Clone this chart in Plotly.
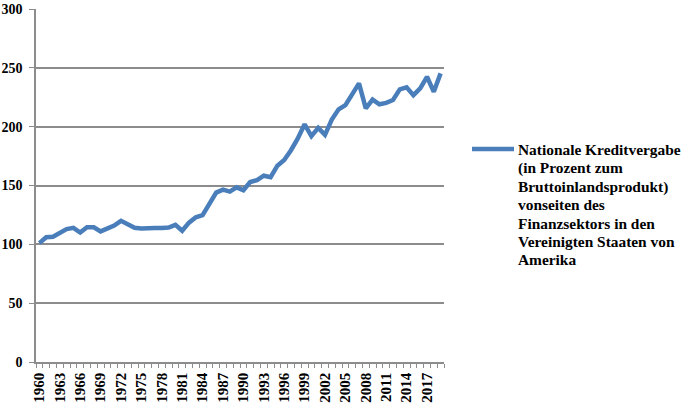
import plotly.graph_objects as go

years = list(range(1960, 2020))
credit_pct_gdp = [
    101, 106, 106.5, 110, 113, 114, 110, 114.5, 114.5, 111,
    113, 116, 120, 117, 114, 113.5, 114, 113.8, 113.8, 114.3,
    116.6, 111.5, 118.4, 123, 124.8, 134, 144, 146.5, 144.8, 148.4,
    146, 153, 154.6, 158.3, 157, 166.8, 171.6, 180, 190, 202,
    192, 199, 193, 206, 214.7, 218.3, 227, 236.8, 215.5, 223,
    219, 220.2, 222.6, 231.7, 233.4, 226.8, 232.5, 242.4, 229.6, 245.3,
]
tick_years = list(range(1960, 2018, 3))
y_ticks = [0, 50, 100, 150, 200, 250, 300]
legend_lines = [
    "Nationale Kreditvergabe",
    "(in Prozent zum",
    "Bruttoinlandsprodukt)",
    "vonseiten des",
    "Finanzsektors in den",
    "Vereinigten Staaten von",
    "Amerika",
]

W, H = 685, 404
ML, MR, MT, MB = 36, 241, 9, 42
plot_w, plot_h = W - ML - MR, H - MT - MB

grid = "#8c8c8c"
line_color = "#4a7ebb"
font_family = "Liberation Serif, Times New Roman, serif"


def px_to_paper_x(px):
    return (px - ML) / plot_w


def px_to_paper_y(py):
    return (H - MB - py) / plot_h


fig = go.Figure()
fig.add_trace(go.Scatter(
    x=years, y=credit_pct_gdp, mode="lines",
    name=" ".join(legend_lines), showlegend=False,
    line=dict(color=line_color, width=4.5),
))

# legend drawn by hand to match the tight line spacing of the original
fig.add_shape(
    type="line", xref="paper", yref="paper",
    x0=px_to_paper_x(472), x1=px_to_paper_x(514),
    y0=px_to_paper_y(149), y1=px_to_paper_y(149),
    line=dict(color=line_color, width=4.5),
)
line_step = 18.3
for i, txt in enumerate(legend_lines):
    center_y = 150 + i * line_step
    fig.add_annotation(
        text="<b>%s</b>" % txt, xref="paper", yref="paper",
        x=px_to_paper_x(516), y=px_to_paper_y(center_y),
        xanchor="left", yanchor="middle", showarrow=False,
        font=dict(family=font_family, size=15.4, color="black"),
    )

fig.update_layout(
    width=W, height=H,
    margin=dict(l=ML, r=MR, t=MT, b=MB, autoexpand=False),
    paper_bgcolor="white", plot_bgcolor="white",
    font=dict(family=font_family),
    showlegend=False,
    xaxis=dict(
        range=[1959.5, 2019.5], automargin=False,
        tickmode="array", tickvals=tick_years,
        ticktext=["<b>%d</b>" % t for t in tick_years],
        tickangle=-90,
        tickfont=dict(family=font_family, size=15, color="black"),
        showgrid=False, zeroline=False,
        showline=True, linecolor=grid, linewidth=1.5,
        ticks="", ticklen=0, ticklabelstandoff=3,
        minor=dict(tick0=1959.5, dtick=1, ticks="outside", ticklen=4,
                   tickcolor=grid, tickwidth=1, showgrid=False),
    ),
    yaxis=dict(
        range=[0, 300], automargin=False,
        tickmode="array", tickvals=y_ticks,
        ticktext=["<b>%d</b>" % t for t in y_ticks],
        tickfont=dict(family=font_family, size=14, color="black"),
        showgrid=True, gridcolor=grid, gridwidth=1.5,
        zeroline=False,
        showline=True, linecolor=grid, linewidth=1.5,
        ticks="outside", ticklen=5, tickcolor=grid, ticklabelstandoff=4,
        ticklabeloverflow="allow",
    ),
)

fig.write_html("out.html", config={"displayModeBar": False},
               post_script="document.body.style.margin='0';")
